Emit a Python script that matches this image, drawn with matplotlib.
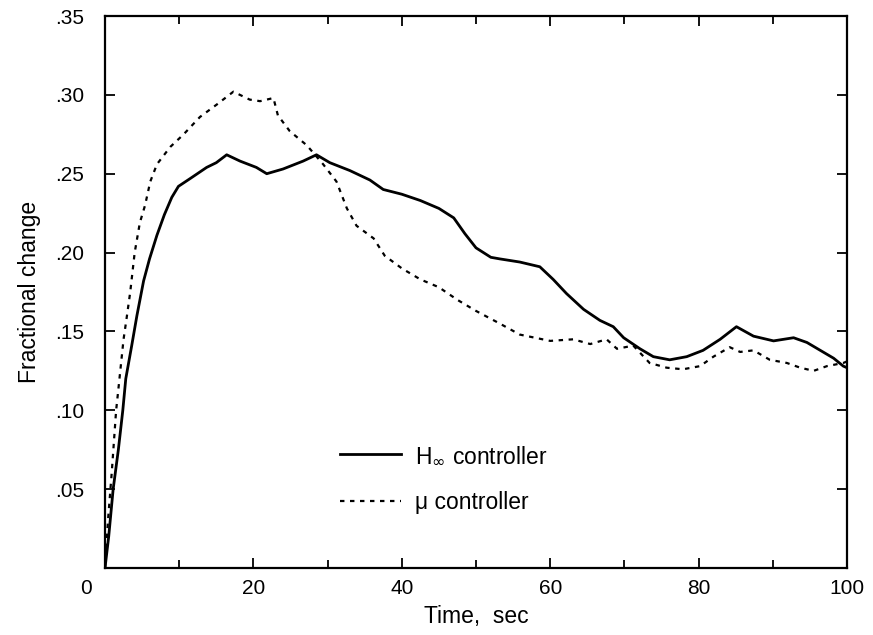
import matplotlib.pyplot as plt
from matplotlib.ticker import FuncFormatter, MultipleLocator

plt.rcParams['font.family'] = ['Liberation Sans', 'DejaVu Sans']

# H-infinity controller (solid)
h_t = [0, 0.5, 1.1, 1.8, 2.4, 2.8, 3.6, 4.3, 5.2, 6.0, 7.0, 8.0, 9.0, 9.9, 11.5,
       13.7, 15.0, 16.4, 18.2, 20.4, 21.8, 24.0, 26.7, 28.5, 30.3, 33.0, 35.7,
       37.5, 40.0, 42.5, 45.0, 47.0, 48.5, 50.0, 52.0, 53.2, 55.9, 58.6, 60.4,
       62.2, 64.5, 66.7, 68.5, 69.9, 72.1, 73.9, 76.1, 78.4, 80.6, 82.9, 85.1,
       87.4, 90.1, 92.8, 94.6, 96.4, 98.2, 99.5, 100]
h_y = [0.0, 0.02, 0.05, 0.075, 0.10, 0.12, 0.141, 0.16, 0.182, 0.196, 0.211,
       0.224, 0.235, 0.242, 0.247, 0.254, 0.257, 0.262, 0.258, 0.254, 0.250,
       0.253, 0.258, 0.262, 0.257, 0.252, 0.246, 0.240, 0.237, 0.233, 0.228,
       0.222, 0.212, 0.203, 0.197, 0.196, 0.194, 0.191, 0.183, 0.174, 0.164,
       0.157, 0.153, 0.146, 0.139, 0.134, 0.132, 0.134, 0.138, 0.145, 0.153,
       0.147, 0.144, 0.146, 0.143, 0.138, 0.133, 0.128, 0.127]

# mu controller (dashed)
m_t = [0, 0.4, 0.9, 1.5, 1.75, 2.5, 2.9, 3.4, 4.0, 4.7, 5.4, 6.1, 7.0, 8.8,
       10.6, 12.8, 15.1, 17.3, 19.5, 20.9, 22.7, 23.3, 24.9, 27.2, 29.4, 31.2,
       32.6, 33.9, 36.2, 37.7, 40.0, 42.5, 45.0, 47.5, 50.0, 53.2, 55.9, 60.0,
       63.1, 65.4, 67.6, 69.0, 71.2, 73.4, 75.7, 77.9, 80.2, 82.0, 84.2, 85.6,
       87.4, 89.6, 91.9, 93.7, 95.5, 97.3, 99.5, 100]
m_y = [0.0, 0.03, 0.06, 0.10, 0.111, 0.145, 0.158, 0.175, 0.20, 0.219, 0.230,
       0.245, 0.256, 0.267, 0.275, 0.286, 0.294, 0.302, 0.297, 0.296, 0.298,
       0.287, 0.277, 0.268, 0.256, 0.245, 0.228, 0.217, 0.209, 0.198, 0.190,
       0.183, 0.178, 0.170, 0.163, 0.155, 0.148, 0.144, 0.145, 0.142, 0.145,
       0.139, 0.141, 0.130, 0.127, 0.126, 0.128, 0.134, 0.140, 0.137, 0.138,
       0.132, 0.130, 0.127, 0.125, 0.128, 0.130, 0.131]

fig = plt.figure(figsize=(8.73, 6.35), dpi=100)
ax = fig.add_axes([105/873, 1 - 568/635, 742/873, 552/635])

ax.plot(h_t, h_y, color='black', lw=2.0, label=r'H$_\infty$ controller')
ax.plot(m_t, m_y, color='black', lw=1.6, dashes=(2, 2.5), label='μ controller')

ax.set_xlim(0, 100)
ax.set_ylim(0, 0.35)
ax.xaxis.set_major_locator(MultipleLocator(20))
ax.xaxis.set_minor_locator(MultipleLocator(10))
ax.xaxis.set_major_formatter(FuncFormatter(lambda v, p: '' if v < 0.001 else f'{v:.0f}'))
ax.yaxis.set_major_locator(MultipleLocator(0.05))
ax.yaxis.set_major_formatter(FuncFormatter(lambda v, p: '' if v < 0.001 else f'{v:.2f}'[1:]))

ax.tick_params(which='both', direction='in', top=True, right=True, width=1.3, labelsize=15)
ax.tick_params(which='major', length=7)
ax.tick_params(which='minor', length=6)
ax.tick_params(axis='y', pad=15)
ax.tick_params(axis='x', pad=8)
for s in ax.spines.values():
    s.set_linewidth(1.6)

# the "0" label sits left of the axis in the original
ax.annotate('0', xy=(0, 0), xycoords=('data', 'axes fraction'), xytext=(-14, -8),
            textcoords='offset points', ha='center', va='top', fontsize=15)

ax.set_xlabel('Time,  sec', fontsize=16.5, labelpad=5)
ax.set_ylabel('Fractional change', fontsize=16.5, labelpad=10)

ax.legend(loc='center left', bbox_to_anchor=(0.317, 0.161), frameon=False,
          fontsize=16.5, handlelength=2.65, handletextpad=0.6, labelspacing=1.05,
          borderpad=0, borderaxespad=0)

fig.savefig('out.png', dpi=100)
